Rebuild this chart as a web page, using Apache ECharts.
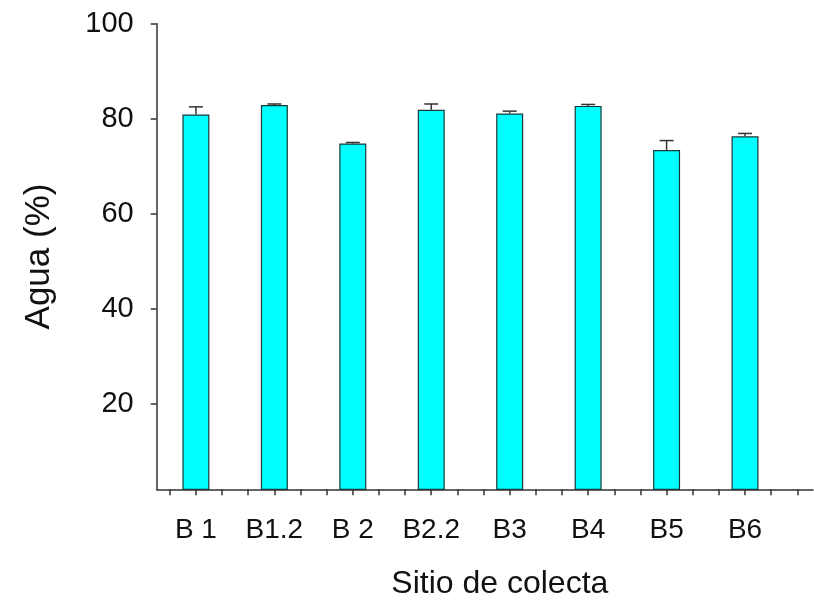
<!DOCTYPE html>
<html>
<head>
<meta charset="utf-8">
<script src="https://cdn.jsdelivr.net/npm/echarts@6/dist/echarts.min.js"></script>
<style>html,body{margin:0;padding:0;background:#fff}#c{width:814px;height:608px}</style>
</head>
<body>
<div id="c"></div>
<script>
var categories = ['B 1', 'B1.2', 'B 2', 'B2.2', 'B3', 'B4', 'B5', 'B6'];
var values = [80.9, 82.9, 74.8, 81.9, 81.1, 82.7, 73.4, 76.3];
var errors = [1.6, 0.2, 0.2, 1.2, 0.5, 0.3, 2.0, 0.6];
var yTicks = [20, 40, 60, 80, 100];
var xTicks = [];
for (var t = 2; t <= 26; t++) xTicks.push(t);
var positions = categories.map(function (c, i) { return (i + 1) * 3; });

var font = '"Liberation Sans", Arial, sans-serif';
var chart = echarts.init(document.getElementById('c'), null, { renderer: 'canvas' });
chart.setOption({
  animation: false,
  backgroundColor: '#fff',
  grid: { left: 156.7, right: 1, top: 23.7, bottom: 118.7, containLabel: false },
  xAxis: {
    type: 'value', min: 1.5, max: 26.6,
    splitLine: { show: false },
    axisLine: { show: true, lineStyle: { color: '#333', width: 1.5 } },
    axisTick: { show: true, inside: false, length: 6, customValues: xTicks, lineStyle: { color: '#333', width: 1.5 } },
    axisLabel: {
      customValues: positions, margin: 27, color: '#111', fontSize: 28, fontFamily: font,
      formatter: function (v) { var i = Math.round(v / 3) - 1; return categories[i] || ''; }
    },
    name: 'Sitio de colecta', nameLocation: 'middle', nameGap: 79,
    nameTextStyle: { fontSize: 32, color: '#111', fontFamily: font, padding: [0, 0, 0, 30] }
  },
  yAxis: {
    type: 'value', min: 2, max: 100,
    splitLine: { show: false },
    axisLine: { show: true, lineStyle: { color: '#333', width: 1.5 } },
    axisTick: { show: true, inside: false, length: 6, customValues: yTicks, lineStyle: { color: '#333', width: 1.5 } },
    axisLabel: { customValues: yTicks, margin: 23, color: '#111', fontSize: 29, fontFamily: font },
    name: 'Agua (%)', nameLocation: 'middle', nameGap: 100,
    nameTextStyle: { fontSize: 35, color: '#111', fontFamily: font }
  },
  series: [
    {
      type: 'bar', barWidth: 27,
      data: positions.map(function (p, i) { return [p, values[i]]; }),
      itemStyle: { color: '#00FFFF', borderColor: '#1a3a3a', borderWidth: 1.2 },
      z: 2
    },
    {
      type: 'custom',
      data: positions.map(function (p, i) { return [p, values[i], values[i] + errors[i]]; }),
      renderItem: function (params, api) {
        var x = api.value(0);
        var p0 = api.coord([x, api.value(1)]);
        var p1 = api.coord([x, api.value(2)]);
        var half = 7;
        var style = { stroke: '#333', lineWidth: 1.5 };
        return {
          type: 'group',
          children: [
            { type: 'line', shape: { x1: p0[0], y1: p0[1], x2: p1[0], y2: p1[1] }, style: style },
            { type: 'line', shape: { x1: p1[0] - half, y1: p1[1], x2: p1[0] + half, y2: p1[1] }, style: style }
          ]
        };
      },
      z: 3
    }
  ]
});
</script>
</body>
</html>
